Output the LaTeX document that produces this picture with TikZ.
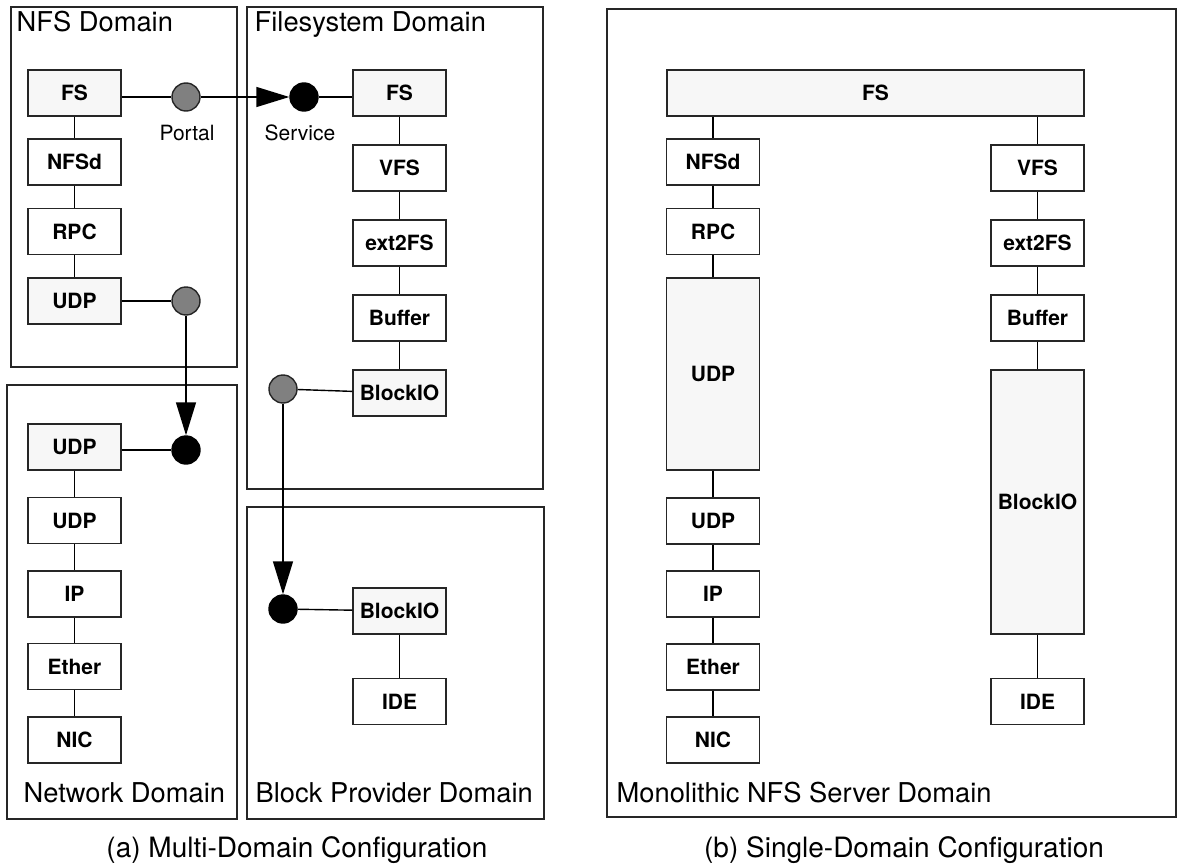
\documentclass[tikz,border=0pt]{standalone}
\usepackage{fontspec}
\setmainfont{TeX Gyre Heros}
\usetikzlibrary{arrows.meta}
\definecolor{boxgray}{HTML}{F7F7F7}
\definecolor{portgray}{HTML}{808080}
\begin{document}
\begin{tikzpicture}[x=1pt,y=-1pt,line width=1.4pt,
  layerbox/.style={draw=black!85,minimum width=93pt,minimum height=46pt,inner sep=0pt,font=\fontsize{21}{25}\selectfont\bfseries},
  glayerbox/.style={layerbox,fill=boxgray},
  portaldot/.style={circle,draw=black!85,fill=portgray,minimum size=28pt,inner sep=0pt},
  servicedot/.style={circle,draw=black,fill=black,minimum size=28pt,inner sep=0pt},
  domainbox/.style={draw=black!85},
  dlabel/.style={anchor=base west,inner sep=0pt,font=\fontsize{27.3}{32}\selectfont},
  slabel/.style={inner sep=0pt,font=\fontsize{21}{25}\selectfont},
  callarrow/.style={-{Triangle[length=33pt,width=20pt]}}]
\useasboundingbox (0,0) rectangle (1181,867);
\draw [domainbox] (11,7) rectangle (237,367);
\node [dlabel] (nfsName) at (16,32) {NFS Domain};
\draw [domainbox] (247,7) rectangle (543,489);
\node [dlabel] (fsName) at (254,32) {Filesystem Domain};
\draw [domainbox] (7,385) rectangle (237,819);
\node [dlabel] (netName) at (23,802) {Network Domain};
\draw [domainbox] (247,507) rectangle (544,819);
\node [dlabel] (blkName) at (255,802) {Block Provider Domain};
\draw [domainbox] (607,9) rectangle (1176,817);
\node [dlabel] (monoName) at (616,802) {Monolithic NFS Server Domain};
\node [glayerbox] (nfsFS) at (74.5,93) {FS};
\node [layerbox] (nfsNFSd) at (74.5,162) {NFSd};
\node [layerbox] (nfsRPC) at (74.5,231.5) {RPC};
\node [glayerbox] (nfsUDP) at (74.5,301) {UDP};
\draw (nfsFS) -- (nfsNFSd);
\draw (nfsNFSd) -- (nfsRPC);
\draw (nfsRPC) -- (nfsUDP);
\node [glayerbox] (fsFS) at (399.5,93) {FS};
\node [layerbox] (fsVFS) at (399.5,168) {VFS};
\node [layerbox] (fsExt) at (399.5,243) {ext2FS};
\node [layerbox] (fsBuf) at (399.5,318) {Buffer};
\node [glayerbox] (fsBlk) at (399.5,393) {BlockIO};
\draw (fsFS) -- (fsVFS);
\draw (fsVFS) -- (fsExt);
\draw (fsExt) -- (fsBuf);
\draw (fsBuf) -- (fsBlk);
\node [glayerbox] (netUDPs) at (74.5,447) {UDP};
\node [layerbox] (netUDP) at (74.5,520.5) {UDP};
\node [layerbox] (netIP) at (74.5,594) {IP};
\node [layerbox] (netEther) at (74.5,666.5) {Ether};
\node [layerbox] (netNIC) at (74.5,740) {NIC};
\draw (netUDPs) -- (netUDP);
\draw (netUDP) -- (netIP);
\draw (netIP) -- (netEther);
\draw (netEther) -- (netNIC);
\node [glayerbox] (blkBlk) at (399.5,611) {BlockIO};
\node [layerbox] (blkIDE) at (399.5,701.5) {IDE};
\draw (blkBlk) -- (blkIDE);
\node [portaldot] (fsPortal) at (186,97) {};
\node [slabel] (portalName) at (187,133) {Portal};
\node [servicedot] (fsService) at (304,97) {};
\node [slabel] (serviceName) at (300,133) {Service};
\node [portaldot] (udpPortal) at (186,301) {};
\node [servicedot] (udpService) at (186,450) {};
\node [portaldot] (blkPortal) at (283,389) {};
\node [servicedot] (blkService) at (283,609) {};
\draw (nfsFS.east |- fsPortal) -- (fsPortal);
\draw [callarrow] (fsPortal) -- (fsService);
\draw (fsService) -- (fsFS.west |- fsService);
\draw (nfsUDP) -- (udpPortal);
\draw [callarrow] (udpPortal) -- (udpService);
\draw (netUDPs.east |- udpService) -- (udpService);
\draw (blkPortal) -- (fsBlk);
\draw [callarrow] (blkPortal) -- (blkService);
\draw (blkService) -- (blkBlk);
\node [glayerbox,minimum width=417pt] (monoFS) at (875.5,93) {FS};
\node [layerbox] (monoNFSd) at (713,162) {NFSd};
\node [layerbox] (monoRPC) at (713,231.5) {RPC};
\node [glayerbox,minimum height=192pt] (monoUDPs) at (713,374) {UDP};
\node [layerbox] (monoUDP) at (713,521) {UDP};
\node [layerbox] (monoIP) at (713,594) {IP};
\node [layerbox] (monoEther) at (713,667) {Ether};
\node [layerbox] (monoNIC) at (713,740) {NIC};
\node [layerbox] (monoVFS) at (1037.5,168) {VFS};
\node [layerbox] (monoExt) at (1037.5,243) {ext2FS};
\node [layerbox] (monoBuf) at (1037.5,318) {Buffer};
\node [glayerbox,minimum height=264pt] (monoBlk) at (1037.5,502) {BlockIO};
\node [layerbox] (monoIDE) at (1037.5,701.5) {IDE};
\draw (monoFS.south -| monoNFSd) -- (monoNFSd);
\draw (monoNFSd) -- (monoRPC);
\draw (monoRPC) -- (monoUDPs);
\draw (monoUDPs) -- (monoUDP);
\draw (monoUDP) -- (monoIP);
\draw (monoIP) -- (monoEther);
\draw (monoEther) -- (monoNIC);
\draw (monoFS.south -| monoVFS) -- (monoVFS);
\draw (monoVFS) -- (monoExt);
\draw (monoExt) -- (monoBuf);
\draw (monoBuf) -- (monoBlk);
\draw (monoBlk) -- (monoIDE);
\node [anchor=base,inner sep=0pt,font=\fontsize{28}{33}\selectfont] (capMulti) at (297,857) {(a) Multi-Domain Configuration};
\node [anchor=base,inner sep=0pt,font=\fontsize{28}{33}\selectfont] (capSingle) at (904,857) {(b) Single-Domain Configuration};
\end{tikzpicture}
\end{document}
